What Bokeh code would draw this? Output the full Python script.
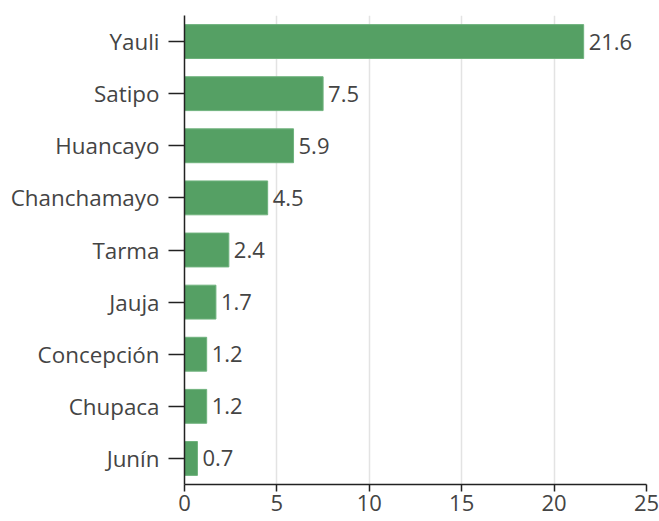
from bokeh.plotting import figure
from bokeh.models import ColumnDataSource, FixedTicker, Range1d
from bokeh.core.properties import value
from bokeh.embed import file_html
from bokeh.resources import INLINE

provinces = ["Yauli", "Satipo", "Huancayo", "Chanchamayo", "Tarma", "Jauja", "Concepción", "Chupaca", "Junín"]
values = [21.6, 7.5, 5.9, 4.5, 2.4, 1.7, 1.2, 1.2, 0.7]
labels = [f"{v:.1f}" for v in values]
x_ticks = [0, 5, 10, 15, 20, 25]

src = ColumnDataSource(dict(cat=provinces, val=values, lab=labels))

p = figure(y_range=list(reversed(provinces)), x_range=Range1d(0, 25),
           width=659, height=521, output_backend="svg", toolbar_location=None,
           min_border_left=184, min_border_right=13, min_border_top=15, min_border_bottom=37)
p.outline_line_color = None

p.hbar(y="cat", right="val", left=0, height=0.65, source=src,
       fill_color="#55a064", line_color="#6fb27d", line_width=1)
p.text(x="val", y="cat", text="lab", source=src, x_offset=5,
       text_baseline="middle", text_align="left", text_font=value("Open Sans"),
       text_font_size="22px", text_color="#444444")

p.xaxis.ticker = FixedTicker(ticks=x_ticks)
p.xaxis.minor_tick_line_color = None
p.yaxis.minor_tick_line_color = None
for ax in (p.xaxis, p.yaxis):
    ax.axis_line_color = "#222222"
    ax.axis_line_width = 1.5
    ax.major_tick_line_color = "#222222"
    ax.major_tick_line_width = 1.5
    ax.major_tick_in = 0
    ax.major_label_text_font = "Open Sans"
    ax.major_label_text_color = "#444444"
p.xaxis.major_tick_out = 7
p.yaxis.major_tick_out = 16
p.xaxis.major_label_text_font_size = "22px"
p.yaxis.major_label_text_font_size = "22.4px"
p.xaxis.major_label_standoff = 3
p.yaxis.major_label_standoff = 9

p.ygrid.grid_line_color = None
p.xgrid.grid_line_color = "#e3e3e3"
p.xgrid.grid_line_width = 1.5

open("out.html", "w").write(file_html(p, INLINE))
